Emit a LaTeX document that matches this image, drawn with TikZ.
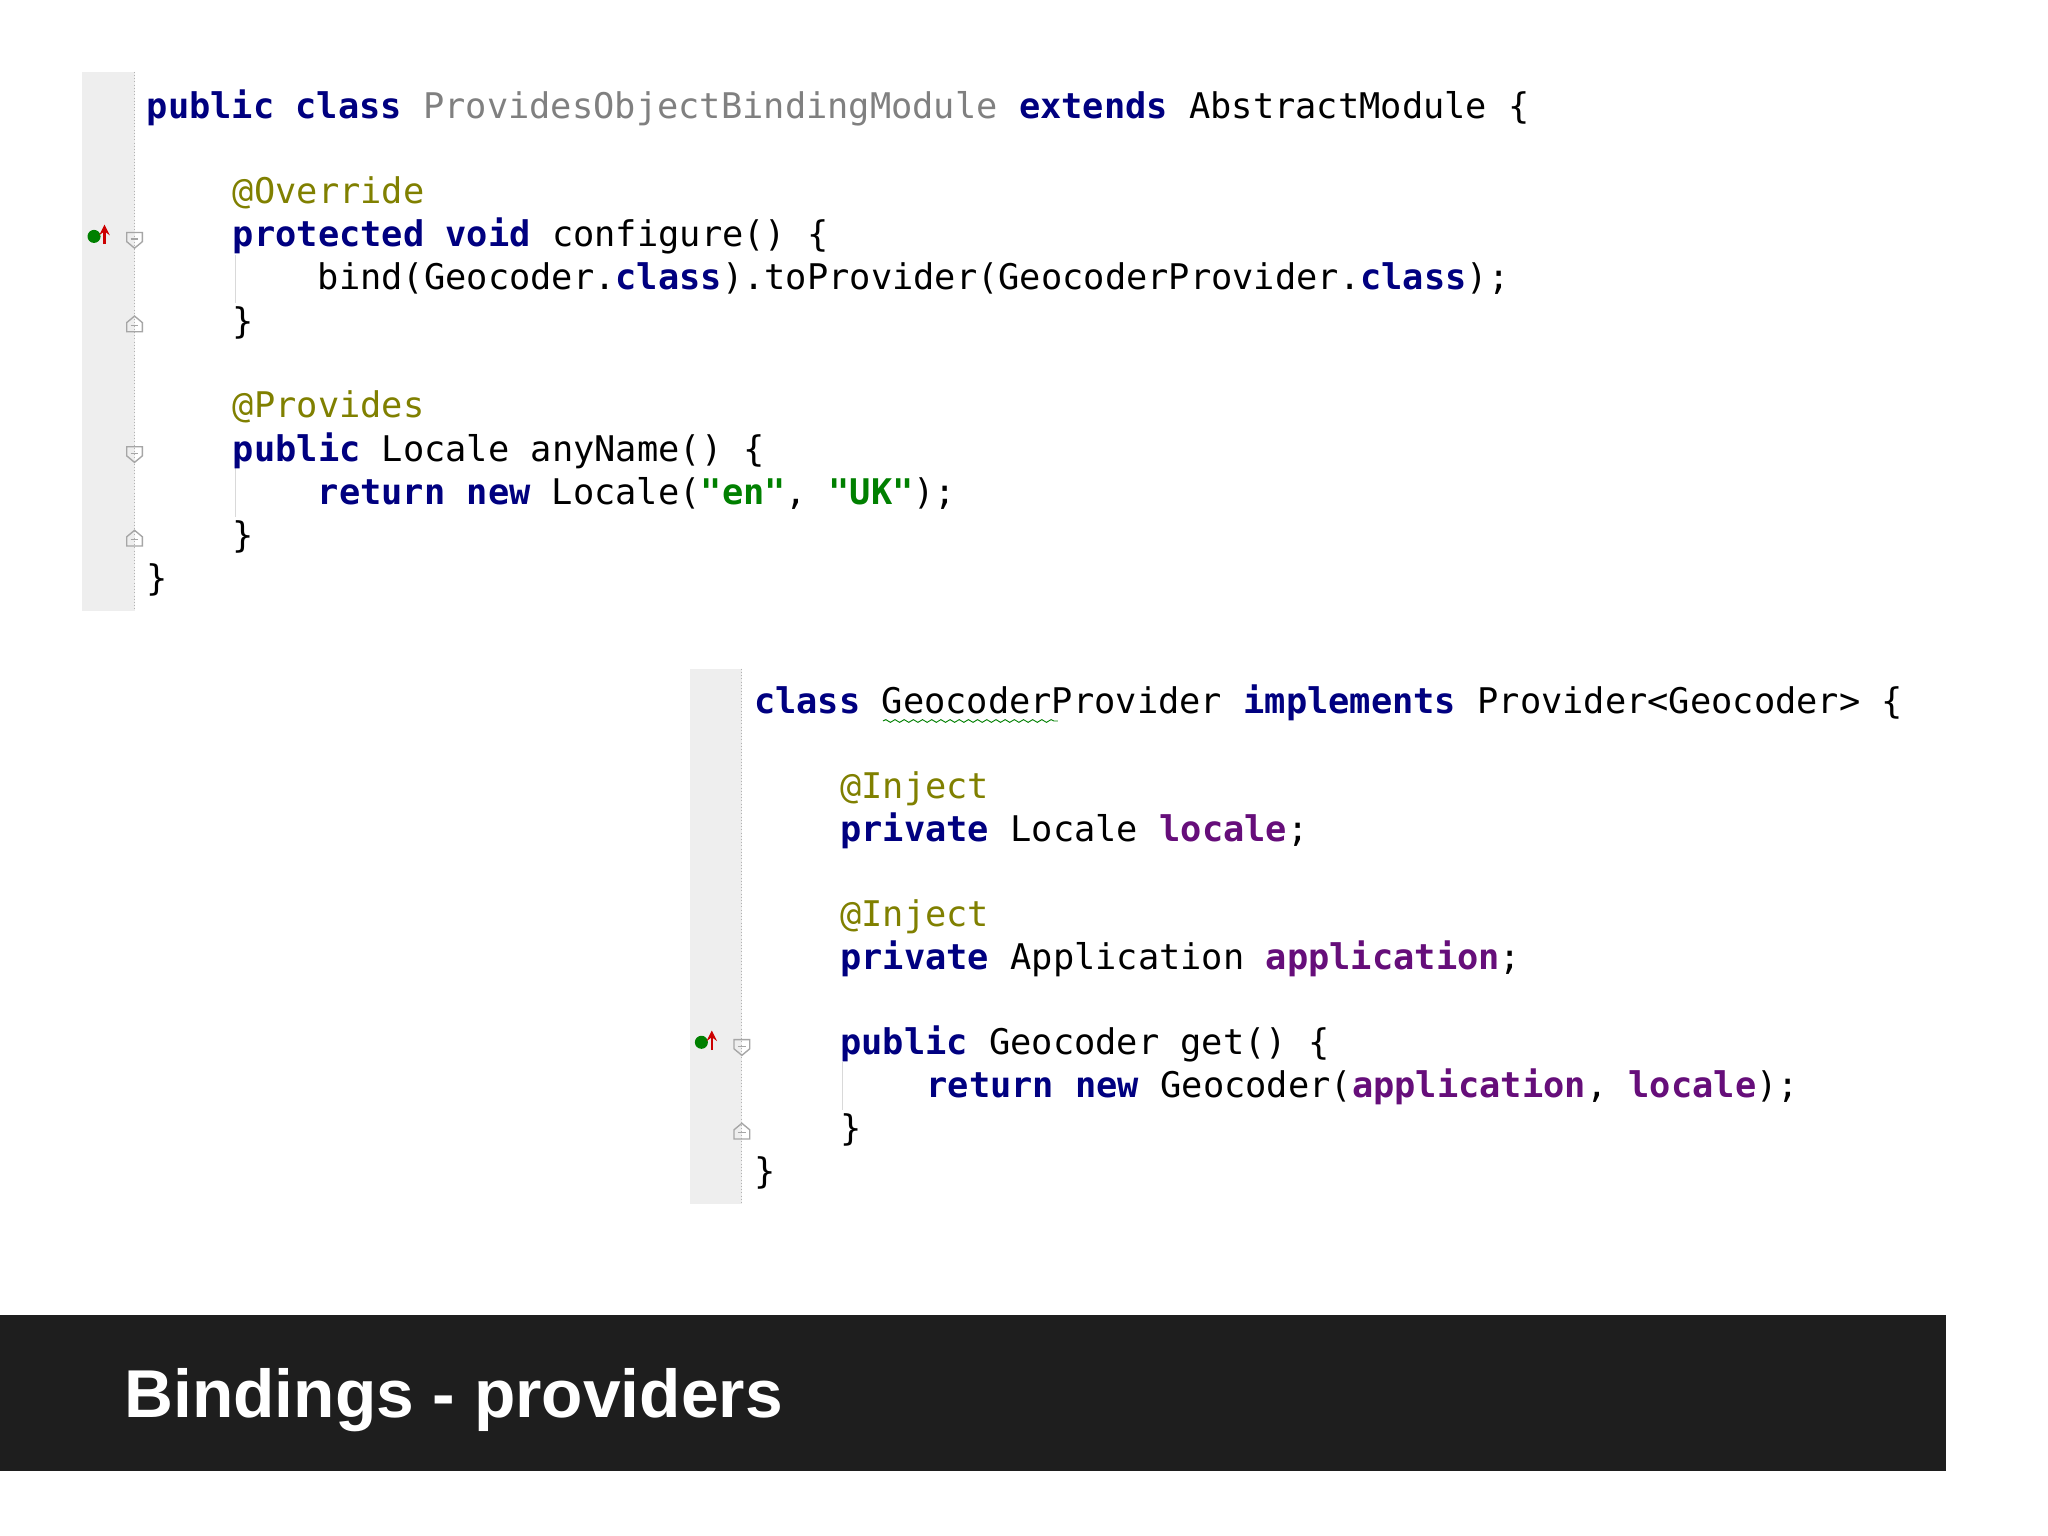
\documentclass[tikz,border=0pt]{standalone}
\usepackage{fontspec}
\setmonofont{DejaVu Sans Mono}
\setsansfont{Liberation Sans}
\usetikzlibrary{decorations.pathmorphing}
\definecolor{kw}{RGB}{0,0,128}
\definecolor{ann}{RGB}{128,128,0}
\definecolor{str}{RGB}{0,128,0}
\definecolor{fld}{RGB}{102,14,122}
\definecolor{gut}{RGB}{238,238,238}
\definecolor{bar}{RGB}{30,30,30}
\newcommand{\K}[1]{\textcolor{kw}{\bfseries #1}}
\newcommand{\A}[1]{\textcolor{ann}{#1}}
\newcommand{\St}[1]{\textcolor{str}{\bfseries #1}}
\newcommand{\F}[1]{\textcolor{fld}{\bfseries #1}}
\tikzset{code/.style={anchor=base west,inner sep=0pt,font=\ttfamily\fontsize{15.4}{18}\selectfont},
fold/.style={draw=gray!70,line width=0.6pt}}
\begin{document}
\begin{tikzpicture}[x=0.02cm,y=-0.02cm]
\useasboundingbox (0,0) rectangle (1568,1176);
\fill[white] (0,0) rectangle (1568,1176);
% gutters
\fill[gut] (63,55) rectangle (103,468);
\draw[gray!60,densely dotted] (103,55) -- (103,468);
\fill[gut] (528,512) rectangle (568,922);
\draw[gray!60,densely dotted] (568,512) -- (568,922);
\draw[gray!30] (180,195) -- (180,232);
\draw[gray!30] (180,358) -- (180,396);
\draw[gray!30] (645,813) -- (645,850);
% fold markers
\foreach \y in {183,347}{\draw[fold] (97,\y-5) -- (109,\y-5) -- (109,\y+2) -- (103,\y+7) -- (97,\y+2) -- cycle; \draw[fold] (100,\y) -- (106,\y);}
\draw[fold] (562,796) -- (574,796) -- (574,803) -- (568,808) -- (562,803) -- cycle; \draw[fold] (565,801) -- (571,801);
\foreach \x/\y in {103/248,103/412,568/866}{\draw[fold] (\x-6,\y+6) -- (\x+6,\y+6) -- (\x+6,\y-1) -- (\x,\y-6) -- (\x-6,\y-1) -- cycle; \draw[fold] (\x-3,\y+1) -- (\x+3,\y+1);}
% override icons
\foreach \x/\y in {72/181,537/798}{\fill[green!50!black] (\x,\y) circle (5); \draw[red!80!black,line width=1pt,->,>=stealth] (\x+8,\y+6) -- (\x+8,\y-9);}
% top code
\node[code] (l1) at (112,91) {\K{public class} \textcolor{gray}{ProvidesObjectBindingModule} \K{extends} AbstractModule \{};
\node[code] (l2) at (178,156) {\A{@Override}};
\node[code] (l3) at (178,189) {\K{protected void} configure() \{};
\node[code] (l4) at (243,222) {bind(Geocoder.\K{class}).toProvider(GeocoderProvider.\K{class});};
\node[code] (l5) at (178,255) {\}};
\node[code] (l6) at (178,320) {\A{@Provides}};
\node[code] (l7) at (178,353) {\K{public} Locale anyName() \{};
\node[code] (l8) at (243,386) {\K{return new} Locale(\St{"en"}, \St{"UK"});};
\node[code] (l9) at (178,419) {\}};
\node[code] (l10) at (112,452) {\}};
% bottom code
\node[code] (m1) at (577,546) {\K{class} GeocoderProvider \K{implements} Provider<Geocoder> \{};
\draw[green!50!black,decorate,decoration={snake,amplitude=0.6,segment length=4}] (676,552) -- (810,552);
\node[code] (m2) at (643,611) {\A{@Inject}};
\node[code] (m3) at (643,644) {\K{private} Locale \F{locale};};
\node[code] (m4) at (643,709) {\A{@Inject}};
\node[code] (m5) at (643,742) {\K{private} Application \F{application};};
\node[code] (m6) at (643,807) {\K{public} Geocoder get() \{};
\node[code] (m7) at (709,840) {\K{return new} Geocoder(\F{application}, \F{locale});};
\node[code] (m8) at (643,873) {\}};
\node[code] (m9) at (577,906) {\}};
% title bar
\fill[bar] (0,1007) rectangle (1490,1126);
\node[anchor=base west,inner sep=0pt,text=white,font=\sffamily\bfseries\fontsize{29.5}{32}\selectfont] (title) at (95,1085) {Bindings - providers};
\end{tikzpicture}
\end{document}
